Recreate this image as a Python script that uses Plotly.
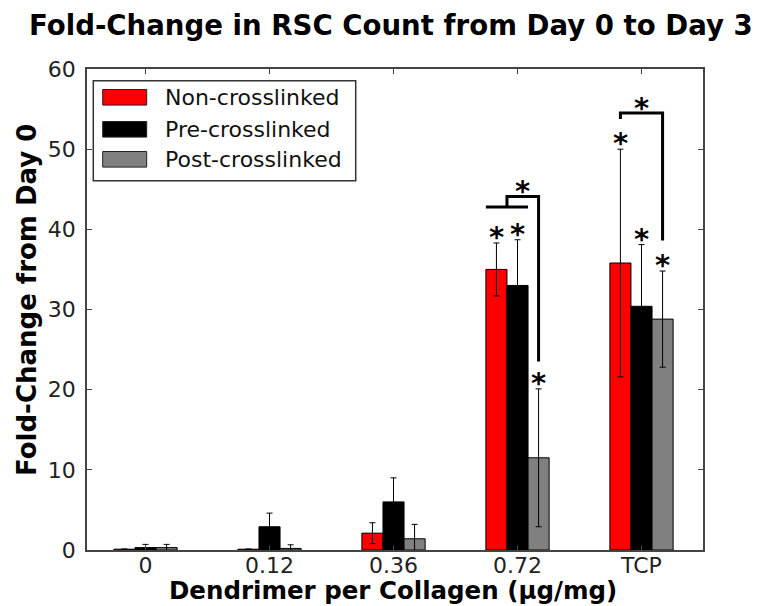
import plotly.graph_objects as go

# ---------------- data ----------------
categories = ["0", "0.12", "0.36", "0.72", "TCP"]
series_names = ["Non-crosslinked", "Pre-crosslinked", "Post-crosslinked"]
series_colors = ["#ff0000", "#000000", "#808080"]

non_vals = [0.1, 0.1, 2.1, 35.0, 35.8]
non_err = [0.0, 0.0, 1.3, 3.3, 14.2]
pre_vals = [0.3, 2.9, 6.0, 33.0, 30.4]
pre_err = [0.4, 1.7, 3.0, 5.7, 7.7]
post_vals = [0.3, 0.2, 1.4, 11.5, 28.8]
post_err = [0.4, 0.45, 1.8, 8.6, 6.0]

non_sig = [0, 0, 0, 1, 1]
pre_sig = [0, 0, 0, 1, 1]
post_sig = [0, 0, 0, 1, 1]

# significance brackets: group index, left-end y, top y, right-end y
bracket_group = [3, 4]
bracket_left_y = [42.8, 53.75]
bracket_top_y = [44.1, 54.5]
bracket_right_y = [23.5, 38.6]

# ---------------- layout constants ----------------
W, H = 760, 606
L, R, T, B = 87, 57, 69, 56
PW, PH = W - L - R, H - T - B
BW = 0.17
offsets = [-BW, 0.0, BW]
FONT = "DejaVu Sans"


def px(x):
    return (x - L) / PW


def py(y):
    return (H - B - y) / PH


vals = [non_vals, pre_vals, post_vals]
errs = [non_err, pre_err, post_err]
sigs = [non_sig, pre_sig, post_sig]

fig = go.Figure()
for k in range(3):
    fig.add_trace(go.Bar(
        x=[i + offsets[k] for i in range(len(categories))],
        y=vals[k],
        width=BW,
        name=series_names[k],
        marker=dict(color=series_colors[k], line=dict(color="black", width=1)),
        error_y=dict(type="data", array=errs[k], visible=True,
                     color="black", thickness=1, width=3),
        showlegend=False,
    ))

annotations = []
shapes = []

# asterisks above error bars
for k in range(3):
    for i in range(len(categories)):
        if sigs[k][i]:
            annotations.append(dict(
                x=i + offsets[k], y=vals[k][i] + errs[k][i] + 1.5,
                xref="x", yref="y", text="<b>*</b>", showarrow=False,
                xanchor="center", yanchor="middle", yshift=-6,
                font=dict(family=FONT, size=29, color="black")))

# brackets
for j, g in enumerate(bracket_group):
    if g == 3:
        # short horizontal bar joining red & black
        shapes.append(dict(type="line", xref="x", yref="y",
                           x0=g - 1.5 * BW, x1=g + 0.5 * BW,
                           y0=bracket_left_y[j], y1=bracket_left_y[j],
                           line=dict(color="black", width=3)))
        xl = g - 0.5 * BW
    else:
        xl = g - BW
    xr = g + BW
    shapes.append(dict(
        type="path", xref="x", yref="y",
        path=f"M {xl},{bracket_left_y[j]} L {xl},{bracket_top_y[j]} "
             f"L {xr},{bracket_top_y[j]} L {xr},{bracket_right_y[j]}",
        line=dict(color="black", width=3)))
    annotations.append(dict(
        x=(xl + xr) / 2, y=bracket_top_y[j] + 1.4, xref="x", yref="y",
        text="<b>*</b>", showarrow=False, xanchor="center", yanchor="middle",
        yshift=-6, font=dict(family=FONT, size=29, color="black")))

# manual legend (matplotlib style)
shapes.append(dict(type="rect", xref="paper", yref="paper",
                   x0=px(93.3), x1=px(355.7), y0=py(180.7), y1=py(80.7),
                   line=dict(color="#333", width=1.5), fillcolor="white"))
row_y = [97.3, 129.3, 159.3]
for k in range(3):
    shapes.append(dict(type="rect", xref="paper", yref="paper",
                       x0=px(102.7), x1=px(146.7),
                       y0=py(row_y[k] + 7.8), y1=py(row_y[k] - 7.8),
                       line=dict(color="#222", width=1),
                       fillcolor=series_colors[k]))
    annotations.append(dict(
        x=px(163), y=py(row_y[k]), xref="paper", yref="paper",
        text=series_names[k], showarrow=False, xanchor="left",
        yanchor="middle", font=dict(family=FONT, size=22, color="#111")))

# title and axis titles
annotations.append(dict(
    x=px(391), y=py(26), xref="paper", yref="paper",
    text="<b>Fold-Change in RSC Count from Day 0 to Day 3</b>",
    showarrow=False, xanchor="center", yanchor="middle",
    font=dict(family=FONT, size=27.6, color="black")))
annotations.append(dict(
    x=px(393), y=py(590), xref="paper", yref="paper",
    text="<b>Dendrimer per Collagen (μg/mg)</b>",
    showarrow=False, xanchor="center", yanchor="middle",
    font=dict(family=FONT, size=24.5, color="black")))
annotations.append(dict(
    x=px(27), y=py(300), xref="paper", yref="paper",
    text="<b>Fold-Change from Day 0</b>", textangle=-90,
    showarrow=False, xanchor="center", yanchor="middle",
    font=dict(family=FONT, size=26, color="black")))

axis_common = dict(
    ticks="inside", ticklen=5, tickcolor="#444", tickwidth=1,
    showline=True, linecolor="#444", linewidth=1.5, mirror="allticks",
    showgrid=False, zeroline=False,
    tickfont=dict(family=FONT, size=22, color="#222"),
)

fig.update_layout(
    width=W, height=H,
    margin=dict(l=L, r=R, t=T, b=B, pad=0),
    paper_bgcolor="white", plot_bgcolor="white",
    barmode="overlay",
    xaxis=dict(range=[-0.472, 4.496], tickmode="array",
               tickvals=list(range(len(categories))), ticktext=categories,
               ticklabelstandoff=-5, **axis_common),
    yaxis=dict(range=[0, 60], tickmode="linear", tick0=0, dtick=10,
               ticklabelstandoff=5, **axis_common),
    shapes=shapes,
    annotations=annotations,
)

fig.write_html("out.html")
